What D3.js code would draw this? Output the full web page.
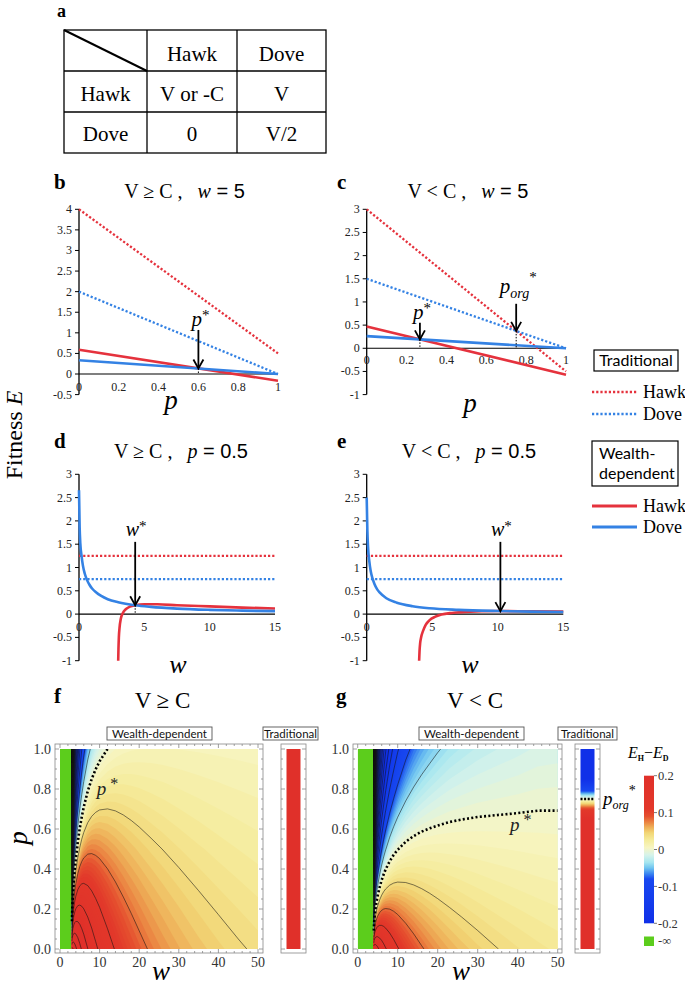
<!DOCTYPE html>
<html>
<head>
<meta charset="utf-8">
<script src="https://cdn.jsdelivr.net/npm/d3@7/dist/d3.min.js"></script>
<style>
  body { margin: 0; background: #fff; }
  svg { display: block; }
</style>
</head>
<body>
<svg id="fig" width="685" height="987"></svg>
<script>
// ---------- values ----------

// a: payoff table
var payCols = ["Hawk", "Dove"];
var payRows = ["Hawk", "Dove"];
var payCells = [["V or -C", "V"], ["0", "V/2"]];

// b, c: fitness against p at w = 5 (straight lines, p = 0 and p = 1)
var pEnds = [0, 1];
var bTradHawk = [4, 0.5];
var bTradDove = [2, 0];
var bWealthHawk = [0.59, -0.165];
var bWealthDove = [0.336, 0];
var cTradHawk = [3, -0.5];
var cTradDove = [1.5, 0];
var cWealthHawk = [0.47, -0.57];
var cWealthDove = [0.262, 0];
var bPStar = 0.6, cPStar = 0.267, cPOrg = 0.75;

// d, e: fitness against w at p = 0.5
var wEnds = [0, 15];
var deTradHawk = [1.25, 1.25];
var deTradDove = [0.75, 0.75];
var dDoveW = [0, 0.05, 0.1, 0.2, 0.3, 0.45, 0.6, 0.8, 1, 1.3, 1.7, 2.2, 3, 4.3, 5.5, 7.5, 10, 12.5, 15];
var dDoveE = [2.66, 1.86, 1.52, 1.24, 1.04, 0.86, 0.74, 0.63, 0.55, 0.47, 0.39, 0.32, 0.255, 0.19, 0.155, 0.118, 0.091, 0.074, 0.063];
var dHawkW = [3.0, 3.02, 3.05, 3.1, 3.2, 3.35, 3.6, 3.9, 4.3, 5, 6, 7.5, 10, 12.5, 15];
var dHawkE = [-1.0, -0.75, -0.5, -0.3, -0.1, 0.02, 0.11, 0.16, 0.19, 0.21, 0.21, 0.19, 0.165, 0.14, 0.12];
var eDoveW = [0, 0.05, 0.1, 0.2, 0.3, 0.45, 0.6, 0.8, 1, 1.5, 2.3, 3.5, 4.8, 7, 10, 12.5, 15];
var eDoveE = [2.5, 1.8, 1.45, 1.13, 0.93, 0.76, 0.64, 0.53, 0.46, 0.34, 0.245, 0.17, 0.125, 0.09, 0.066, 0.054, 0.046];
var eHawkW = [4.0, 4.03, 4.08, 4.15, 4.3, 4.5, 4.8, 5.2, 5.7, 6.5, 7.5, 10, 12.5, 15];
var eHawkE = [-1.0, -0.8, -0.62, -0.5, -0.36, -0.23, -0.13, -0.06, -0.01, 0.025, 0.045, 0.066, 0.06, 0.056];
var dWStar = 4.3, eWStar = 10.2;

// tick labels
var bYTicks = [-0.5, 0, 0.5, 1, 1.5, 2, 2.5, 3, 3.5, 4];
var cYTicks = [-1, -0.5, 0, 0.5, 1, 1.5, 2, 2.5, 3];
var pTicks = [0, 0.2, 0.4, 0.6, 0.8, 1];
var wTicks = [0, 5, 10, 15];
var heatPTicks = [0, 0.2, 0.4, 0.6, 0.8, 1];
var heatWTicks = [0, 10, 20, 30, 40, 50];
var barTicks = [-0.2, -0.1, 0, 0.1, 0.2];

// f, g: E_H - E_D over (w, p), rows at p = 0, 0.5, 1
var heatP = [0, 0.5, 1];
var fW = [3.02, 3.1, 3.25, 3.5, 3.75, 4, 4.5, 5, 5.5, 6, 7, 8, 9, 10, 12, 14, 16, 18, 20, 23, 26, 30, 35, 40, 45, 50];
var fAtP0 = [0.335, 0.331, 0.323, 0.310, 0.2985, 0.2877, 0.2683, 0.2513, 0.2364, 0.2231, 0.2007, 0.1824, 0.1670, 0.1542, 0.1335, 0.1178, 0.1053, 0.0953, 0.0870, 0.0769, 0.0690, 0.0607, 0.0526, 0.0465, 0.0417, 0.0378];
var fAtP05 = [-0.876, -0.486, -0.279, -0.141, -0.0718, -0.0295, 0.0185, 0.0435, 0.0577, 0.066, 0.0735, 0.0751, 0.0741, 0.0721, 0.0668, 0.0615, 0.0566, 0.0523, 0.0485, 0.0436, 0.0397, 0.0353, 0.031, 0.0276, 0.0249, 0.0227];
var fAtP1 = [-2.087, -1.303, -0.881, -0.592, -0.442, -0.3466, -0.2313, -0.1643, -0.121, -0.0912, -0.0538, -0.0323, -0.0189, -0.0101, 0, 0.0051, 0.0078, 0.0092, 0.0099, 0.0103, 0.0103, 0.0099, 0.0093, 0.0087, 0.0081, 0.0076];
var gW = [4.02, 4.1, 4.25, 4.5, 4.75, 5, 5.5, 6, 6.5, 7, 8, 9, 10, 12, 14, 16, 18, 20, 23, 26, 30, 35, 40, 45, 50];
var gAtP0 = [0.2404, 0.2373, 0.2318, 0.2231, 0.2151, 0.2076, 0.1941, 0.1824, 0.1719, 0.1625, 0.1466, 0.1335, 0.1226, 0.1053, 0.0924, 0.0823, 0.0742, 0.0675, 0.0594, 0.0531, 0.0465, 0.0402, 0.0355, 0.0317, 0.0287];
var gAtP05 = [-1.066, -0.672, -0.459, -0.31, -0.2315, -0.181, -0.119, -0.0821, -0.058, -0.0414, -0.0204, -0.0083, -0.0008, 0.0071, 0.0106, 0.0122, 0.0128, 0.0129, 0.0126, 0.0121, 0.0113, 0.0103, 0.0095, 0.0087, 0.0081];
var gAtP1 = [-2.373, -1.582, -1.150, -0.843, -0.678, -0.570, -0.432, -0.347, -0.288, -0.245, -0.187, -0.150, -0.124, -0.091, -0.071, -0.058, -0.049, -0.042, -0.034, -0.029, -0.024, -0.020, -0.017, -0.014, -0.013];
var fC = 3, gC = 4;                 // below this w the difference is -infinity
var fTradVal = [2, 0.5];            // traditional E_H - E_D at p = 0 and p = 1
var gTradVal = [1.5, -0.5];
var gPOrg = 0.75;

// ---------- drawing ----------
var svg = d3.select("#fig");
var serif = '"Liberation Serif","Times New Roman",serif';
var sans = '"Liberation Sans",Arial,sans-serif';
var lato = 'Lato,"Open Sans",sans-serif';
var RED = "#e5323d", BLUE = "#3482e4", GREEN = "#5ccd1c";

// colour map of panels f and g
var heatStops = [-0.2, -0.08, -0.065, -0.05, -0.035, -0.015, 0.005, 0.025, 0.045, 0.06, 0.075, 0.09, 0.11, 0.2];
var heatColors = ["#1030e8", "#1848f0", "#3c88f0", "#70c4f0", "#a6e6f0", "#d6f3ea", "#f7f5c2",
                  "#f5ec9c", "#f2d676", "#eeb058", "#ea8040", "#e5502f", "#e2382a", "#e0302a"];
var heat = d3.scaleLinear().domain(heatStops).range(heatColors).clamp(true);

function text(x, y, s, size, o) {
  o = o || {};
  return svg.append("text").attr("x", x).attr("y", y).text(s)
    .style("font-family", o.font || serif).style("font-size", size + "px")
    .style("font-style", o.italic ? "italic" : null).style("font-weight", o.bold ? "bold" : null)
    .attr("text-anchor", o.anchor || "start").attr("fill", o.fill || "#000");
}

function rich(x, y, parts, size, anchor) {
  var t = svg.append("text").attr("x", x).attr("y", y).attr("text-anchor", anchor || "middle")
    .style("font-size", size + "px").style("font-family", serif).style("white-space", "pre");
  parts.forEach(function(p) {
    var s = t.append("tspan").text(p.t);
    if (p.i) s.style("font-style", "italic");
    if (p.f) s.style("font-family", p.f);
    if (p.s) s.style("font-size", p.s + "px");
    if (p.dy) s.attr("dy", p.dy);
    if (p.b) s.style("font-weight", "bold");
  });
  return t;
}

// panel letters
text(57, 17, "a", 18, {bold: true});
[["b", 54, 189], ["c", 337, 189], ["d", 54, 448], ["e", 337, 448], ["f", 54, 703], ["g", 336, 703]]
  .forEach(function(l) { text(l[1], l[2], l[0], 21, {bold: true}); });

// ---- a: table ----
var tx = d3.scaleOrdinal().domain([0, 1, 2]).range([105.5, 192, 281.5]);
var tbl = svg.append("g").attr("stroke", "#000").attr("fill", "none");
tbl.append("rect").attr("x", 64).attr("y", 30).attr("width", 262).attr("height", 123).attr("stroke-width", 1.3);
[147, 237].forEach(function(x) { tbl.append("line").attr("x1", x).attr("x2", x).attr("y1", 30).attr("y2", 153).attr("stroke-width", 1.3); });
[71, 112].forEach(function(y) { tbl.append("line").attr("x1", 64).attr("x2", 326).attr("y1", y).attr("y2", y).attr("stroke-width", 1.3); });
tbl.append("line").attr("x1", 64).attr("y1", 30).attr("x2", 147).attr("y2", 71).attr("stroke-width", 2);
payCols.forEach(function(c, i) { text(tx(i + 1), 61, c, 21, {anchor: "middle"}); });
payRows.forEach(function(r, j) {
  var y = [101, 141][j];
  text(tx(0), y, r, 21, {anchor: "middle"});
  payCells[j].forEach(function(c, i) { text(tx(i + 1), y, c, 21, {anchor: "middle"}); });
});

// ---- line panels ----
function axes(xs, ys, yTicks, xTicks, labDy) {
  var g = svg.append("g");
  var x0 = xs.range()[0], x1 = xs.range()[1], y0 = ys(0);
  g.append("line").attr("x1", x0).attr("x2", x0).attr("y1", ys(d3.max(yTicks))).attr("y2", ys(d3.min(yTicks)))
    .attr("stroke", "#000").attr("stroke-width", 1.3);
  g.append("line").attr("x1", x0).attr("x2", x1).attr("y1", y0).attr("y2", y0)
    .attr("stroke", "#000").attr("stroke-width", 1.1);
  yTicks.forEach(function(v) {
    g.append("line").attr("x1", x0 - 4).attr("x2", x0).attr("y1", ys(v)).attr("y2", ys(v)).attr("stroke", "#000").attr("stroke-width", 1);
    text(x0 - 7, ys(v) + 4, String(v), 12, {anchor: "end", fill: "#222"});
  });
  xTicks.forEach(function(v) {
    text(xs(v), y0 + labDy, String(v), 12, {anchor: "middle", fill: "#222"});
  });
}

function series(xs, ys, X, Y, color, dotted, curve) {
  var line = d3.line().x(function(d, i) { return xs(X[i]); }).y(function(d, i) { return ys(Y[i]); })
    .curve(curve || d3.curveLinear);
  svg.append("path").attr("d", line(X)).attr("fill", "none").attr("stroke", color)
    .attr("stroke-width", dotted ? 2.3 : 2.6).attr("stroke-dasharray", dotted ? "2.2,2" : null);
}

function arrow(x, yTop, yTip, yAxis) {
  svg.append("line").attr("x1", x).attr("x2", x).attr("y1", yTop).attr("y2", yTip - 1)
    .attr("stroke", "#000").attr("stroke-width", 1.8);
  svg.append("path").attr("d", "M" + (x - 5) + "," + (yTip - 9) + "L" + x + "," + yTip + "L" + (x + 5) + "," + (yTip - 9))
    .attr("fill", "none").attr("stroke", "#000").attr("stroke-width", 1.8);
  if (yAxis !== undefined) {
    svg.append("line").attr("x1", x).attr("x2", x).attr("y1", yTip).attr("y2", yAxis)
      .attr("stroke", "#000").attr("stroke-width", 1).attr("stroke-dasharray", "1.5,1.5");
  }
}

// b
var bx = d3.scaleLinear().domain([0, 1]).range([79, 278]);
var by = d3.scaleLinear().domain([-0.5, 4]).range([394.6, 209.3]);
axes(bx, by, bYTicks, pTicks, 17);
series(bx, by, pEnds, bTradHawk, RED, true);
series(bx, by, pEnds, bTradDove, BLUE, true);
series(bx, by, pEnds, bWealthHawk, RED, false);
series(bx, by, pEnds, bWealthDove, BLUE, false);
var bTip = d3.scaleLinear().domain(pEnds).range(bWealthDove)(bPStar);
arrow(bx(bPStar), by(1.07), by(bTip), by(0));
rich(bx(bPStar) + 2, 325.5, [{t: "p", i: true}, {t: "*", s: 15, dy: -6}], 21);
rich(184.5, 198, [{t: "V ≥ C ,   "}, {t: "w", i: true}, {t: " = 5", f: sans}], 20);
text(171, 409, "p", 27, {italic: true, anchor: "middle"});

// c
var cx = d3.scaleLinear().domain([0, 1]).range([366.7, 566]);
var cy = d3.scaleLinear().domain([-1, 3]).range([394.6, 209.3]);
axes(cx, cy, cYTicks, pTicks, 16);
series(cx, cy, pEnds, cTradHawk, RED, true);
series(cx, cy, pEnds, cTradDove, BLUE, true);
series(cx, cy, pEnds, cWealthHawk, RED, false);
series(cx, cy, pEnds, cWealthDove, BLUE, false);
var cTip = d3.scaleLinear().domain(pEnds).range(cWealthDove)(cPStar);
var cOrgTip = d3.scaleLinear().domain(pEnds).range(cTradDove)(cPOrg);
arrow(cx(cPStar), cy(0.55), cy(cTip), cy(0));
arrow(cx(cPOrg), cy(0.96), cy(cOrgTip), cy(0));
rich(cx(cPStar) + 2, 319, [{t: "p", i: true}, {t: "*", s: 15, dy: -6}], 21);
rich(cx(cPOrg) + 2, 293, [{t: "p", i: true}, {t: "org", i: true, s: 14, dy: 5}, {t: "*", s: 15, dy: -16}], 21);
rich(468, 198, [{t: "V < C ,   "}, {t: "w", i: true}, {t: " = 5", f: sans}], 20);
text(470, 412, "p", 27, {italic: true, anchor: "middle"});

// d
var dx = d3.scaleLinear().domain([0, 15]).range([79, 275]);
var dy = d3.scaleLinear().domain([-1, 3]).range([660.7, 474.3]);
axes(dx, dy, cYTicks, wTicks, 17);
series(dx, dy, wEnds, deTradHawk, RED, true);
series(dx, dy, wEnds, deTradDove, BLUE, true);
series(dx, dy, dHawkW, dHawkE, RED, false, d3.curveMonotoneX);
series(dx, dy, dDoveW, dDoveE, BLUE, false, d3.curveMonotoneX);
var dTip = d3.scaleLinear().domain(dDoveW).range(dDoveE)(dWStar);
arrow(dx(dWStar), dy(1.55), dy(dTip), dy(0));
rich(dx(dWStar) + 1, 536, [{t: "w", i: true}, {t: "*", s: 15, dy: -5}], 20);
rich(181, 458, [{t: "V ≥ C ,   "}, {t: "p", i: true}, {t: " = 0.5", f: sans}], 20);
text(178, 673, "w", 26, {italic: true, anchor: "middle"});

// e
var ex = d3.scaleLinear().domain([0, 15]).range([366.7, 563.3]);
var ey = d3.scaleLinear().domain([-1, 3]).range([660.7, 474.3]);
axes(ex, ey, cYTicks, wTicks, 17);
series(ex, ey, wEnds, deTradHawk, RED, true);
series(ex, ey, wEnds, deTradDove, BLUE, true);
series(ex, ey, eHawkW, eHawkE, RED, false, d3.curveMonotoneX);
series(ex, ey, eDoveW, eDoveE, BLUE, false, d3.curveMonotoneX);
var eTip = d3.scaleLinear().domain(eDoveW).range(eDoveE)(eWStar);
arrow(ex(eWStar), ey(1.55), ey(eTip), ey(0));
rich(ex(eWStar) + 1, 536, [{t: "w", i: true}, {t: "*", s: 15, dy: -5}], 20);
rich(469, 458, [{t: "V < C ,   "}, {t: "p", i: true}, {t: " = 0.5", f: sans}], 20);
text(470, 673, "w", 26, {italic: true, anchor: "middle"});

// shared y label
svg.append("text").attr("transform", "translate(22,435) rotate(-90)").attr("text-anchor", "middle")
  .style("font-family", serif).style("font-size", "24px")
  .call(function(t) { t.append("tspan").text("Fitness "); t.append("tspan").text("E").style("font-style", "italic"); });

// legend
svg.append("rect").attr("x", 594).attr("y", 350).attr("width", 84).attr("height", 21).attr("fill", "none").attr("stroke", "#000").attr("stroke-width", 1.2);
text(636, 366, "Traditional", 16, {font: lato, anchor: "middle"});
svg.append("rect").attr("x", 592).attr("y", 441).attr("width", 86).attr("height", 45).attr("fill", "none").attr("stroke", "#000").attr("stroke-width", 1.2);
text(599, 459, "Wealth-", 16, {font: lato});
text(599, 479, "dependent", 16, {font: lato});
[[392, RED, true, "Hawk"], [414, BLUE, true, "Dove"], [506, RED, false, "Hawk"], [527, BLUE, false, "Dove"]].forEach(function(l) {
  svg.append("line").attr("x1", 592).attr("x2", 637).attr("y1", l[0]).attr("y2", l[0]).attr("stroke", l[1])
    .attr("stroke-width", l[2] ? 2.3 : 2.8).attr("stroke-dasharray", l[2] ? "2.2,2" : null);
  text(643, l[0] + 6, l[3], 18);
});

// ---- heat map panels ----
var defs = svg.append("defs");

function openLines(coords, toData, w0, w1) {
  var out = [], eps = 1e-7;
  function edge(a, b) {
    return (Math.abs(a[1]) < eps && Math.abs(b[1]) < eps) || (Math.abs(a[1] - 1) < eps && Math.abs(b[1] - 1) < eps) ||
           (Math.abs(a[0] - w0) < eps && Math.abs(b[0] - w0) < eps) || (Math.abs(a[0] - w1) < eps && Math.abs(b[0] - w1) < eps);
  }
  coords.forEach(function(poly) {
    poly.forEach(function(ring) {
      var pts = ring.map(toData), cur = [];
      for (var k = 0; k < pts.length - 1; k++) {
        if (edge(pts[k], pts[k + 1])) { if (cur.length > 1) out.push(cur); cur = []; continue; }
        if (!cur.length) cur.push(pts[k]);
        cur.push(pts[k + 1]);
      }
      if (cur.length > 1) out.push(cur);
    });
  });
  return out;
}

function frame(x0, x1, y0, y1, ys, xs, wMajor, wMinor) {
  var g = svg.append("g").attr("stroke", "#888").attr("stroke-width", 0.8);
  g.append("rect").attr("x", x0).attr("y", y0).attr("width", x1 - x0).attr("height", y1 - y0).attr("fill", "none");
  d3.range(0, 1.0001, 0.05).forEach(function(v, i) {
    var len = i % 4 === 0 ? 4 : 2;
    g.append("line").attr("x1", x0).attr("x2", x0 + len).attr("y1", ys(v)).attr("y2", ys(v));
    g.append("line").attr("x1", x1).attr("x2", x1 - len).attr("y1", ys(v)).attr("y2", ys(v));
  });
  if (xs) {
    d3.range(0, 50.0001, wMinor).forEach(function(v) {
      var len = v % wMajor === 0 ? 4 : 2;
      g.append("line").attr("x1", xs(v)).attr("x2", xs(v)).attr("y1", y1).attr("y2", y1 - len);
      g.append("line").attr("x1", xs(v)).attr("x2", xs(v)).attr("y1", y0).attr("y2", y0 + len);
    });
  }
}

function heatPanel(o) {
  var n = o.w.length, m = heatP.length;
  var values = [];
  o.rows.forEach(function(r) { r.forEach(function(v) { values.push(v); }); });
  var ix = d3.scaleLinear().domain(d3.range(n)).range(o.w).clamp(true);
  var iy = d3.scaleLinear().domain(d3.range(m)).range(heatP).clamp(true);
  var toData = function(pt) { return [ix(pt[0] - 0.5), iy(pt[1] - 0.5)]; };
  var xs = o.xs, ys = o.ys;
  var proj = d3.geoTransform({point: function(x, y) { var d = toData([x, y]); this.stream.point(xs(d[0]), ys(d[1])); }});
  var path = d3.geoPath(proj);

  defs.append("clipPath").attr("id", o.id).append("rect")
    .attr("x", xs(0)).attr("y", ys(1)).attr("width", xs(50) - xs(0)).attr("height", ys(0) - ys(1));
  var g = svg.append("g").attr("clip-path", "url(#" + o.id + ")");
  g.append("rect").attr("x", xs(0)).attr("y", ys(1)).attr("width", xs(o.C) - xs(0)).attr("height", ys(0) - ys(1)).attr("fill", GREEN);

  var fillT = [-10].concat(d3.range(-0.2, 0.2001, 0.005));
  var bands = d3.contours().size([n, m]).thresholds(fillT)(values);
  g.selectAll(null).data(bands).join("path").attr("d", path)
    .attr("fill", function(d) { return heat(d.value + 0.0025); });

  var lineGen = d3.line().x(function(d) { return xs(d[0]); }).y(function(d) { return ys(d[1]); });
  var levels = d3.range(-75, 9).filter(function(k) { return k !== 0; }).map(function(k) { return k * 0.04; });
  var iso = d3.contours().size([n, m]).thresholds(levels)(values);
  iso.forEach(function(c) {
    openLines(c.coordinates, toData, o.w[0], o.w[n - 1]).forEach(function(pl) {
      g.append("path").attr("d", lineGen(pl)).attr("fill", "none").attr("stroke", "#141414")
        .attr("stroke-width", 0.65).attr("stroke-opacity", 0.85);
    });
  });
  var zero = d3.contours().size([n, m]).contour(values, 0);
  openLines(zero.coordinates, toData, o.w[0], o.w[n - 1]).forEach(function(pl) {
    g.append("path").attr("d", lineGen(pl)).attr("fill", "none").attr("stroke", "#000")
      .attr("stroke-width", 2.6).attr("stroke-dasharray", "2,2.3");
  });

  frame(o.frame[0], o.frame[1], 744, 953, ys, xs, 10, 2);
  heatPTicks.forEach(function(v) { text(o.frame[0] - 4, ys(v) + 5, d3.format(".1f")(v), 14, {anchor: "end", fill: "#333"}); });
  heatWTicks.forEach(function(v) { text(xs(v), 967, String(v), 14, {anchor: "middle", fill: "#333"}); });

  // traditional bar
  var tg = defs.append("linearGradient").attr("id", o.id + "t").attr("x1", 0).attr("x2", 0).attr("y1", 0).attr("y2", 1);
  var pOf = d3.scaleLinear().domain(o.trad).range(pEnds);
  heatStops.forEach(function(v, i) {
    tg.append("stop").attr("offset", Math.max(0, Math.min(1, 1 - pOf(v)))).attr("stop-color", heatColors[i]);
  });
  frame(o.bar[0], o.bar[1], 744, 953, ys);
  svg.append("rect").attr("x", o.bar[0] + 5.5).attr("y", ys(1)).attr("width", o.bar[1] - o.bar[0] - 11)
    .attr("height", ys(0) - ys(1)).attr("fill", "url(#" + o.id + "t)");

  // headers
  [[o.wd, "Wealth-dependent"], [o.tr, "Traditional"]].forEach(function(h) {
    svg.append("rect").attr("x", h[0][0]).attr("y", 727).attr("width", h[0][1] - h[0][0]).attr("height", 13)
      .attr("fill", "#fff").attr("stroke", "#555").attr("stroke-width", 0.9);
    text((h[0][0] + h[0][1]) / 2, 737.5, h[1], 11.5, {font: lato, anchor: "middle", fill: "#111"});
  });
}

var fx = d3.scaleLinear().domain([0, 50]).range([60, 258]);
var fy = d3.scaleLinear().domain([0, 1]).range([949, 749]);
heatPanel({id: "hf", w: fW, rows: [fAtP0, fAtP05, fAtP1], xs: fx, ys: fy, C: fC, trad: fTradVal,
           frame: [55, 263], bar: [281, 306], wd: [107, 212], tr: [263, 318]});
rich(fx(9.3), fy(0.77), [{t: "p", i: true}, {t: " *", s: 16, dy: -6}], 19, "start").attr("fill", "#222");
rich(162.5, 708, [{t: "V ≥ C"}], 23);
svg.append("text").attr("transform", "translate(27,838) rotate(-90)").attr("text-anchor", "middle")
  .style("font-family", serif).style("font-size", "27px").style("font-style", "italic").text("p");
text(161, 980, "w", 27, {italic: true, anchor: "middle"});

var gx = d3.scaleLinear().domain([0, 50]).range([357.7, 557.7]);
var gy = d3.scaleLinear().domain([0, 1]).range([949, 749]);
heatPanel({id: "hg", w: gW, rows: [gAtP0, gAtP05, gAtP1], xs: gx, ys: gy, C: gC, trad: gTradVal,
           frame: [353, 562], bar: [575, 600], wd: [419, 524], tr: [558, 617]});
rich(gx(38.1), gy(0.59), [{t: "p", i: true}, {t: " *", s: 16, dy: -6}], 19, "start").attr("fill", "#222");
svg.append("line").attr("x1", 580.5).attr("x2", 594.5).attr("y1", gy(gPOrg)).attr("y2", gy(gPOrg))
  .attr("stroke", "#000").attr("stroke-width", 2.6).attr("stroke-dasharray", "2,1.6");
rich(603, gy(gPOrg) + 6, [{t: "p", i: true}, {t: "org", i: true, s: 12, dy: 4}, {t: "*", s: 14, dy: -14}], 19, "start");
rich(475, 708, [{t: "V < C"}], 23);
text(461, 980, "w", 27, {italic: true, anchor: "middle"});

// colour bar
var cb = d3.scaleLinear().domain([-0.2, 0.2]).range([923.3, 775.7]);
var cg = defs.append("linearGradient").attr("id", "cbar").attr("x1", 0).attr("x2", 0).attr("y1", 1).attr("y2", 0);
heatStops.forEach(function(v, i) {
  cg.append("stop").attr("offset", (cb(v) - cb(-0.2)) / (cb(0.2) - cb(-0.2))).attr("stop-color", heatColors[i]);
});
svg.append("rect").attr("x", 644).attr("y", cb(0.2)).attr("width", 10).attr("height", cb(-0.2) - cb(0.2)).attr("fill", "url(#cbar)");
barTicks.forEach(function(v) {
  svg.append("line").attr("x1", 654).attr("x2", 657).attr("y1", cb(v)).attr("y2", cb(v)).attr("stroke", "#555").attr("stroke-width", 0.8);
  text(658, cb(v) + 4.5, String(v), 12.5, {fill: "#333"});
});
svg.append("rect").attr("x", 644).attr("y", 936.5).attr("width", 10).attr("height", 9.5).attr("fill", GREEN);
text(658, 945, "-∞", 12.5, {fill: "#333"});
rich(628, 758, [{t: "E", i: true}, {t: "H", s: 8, dy: 3, b: true}, {t: "−", dy: -3}, {t: "E", i: true}, {t: "D", s: 8, dy: 3, b: true}], 16, "start");
</script>
</body>
</html>
